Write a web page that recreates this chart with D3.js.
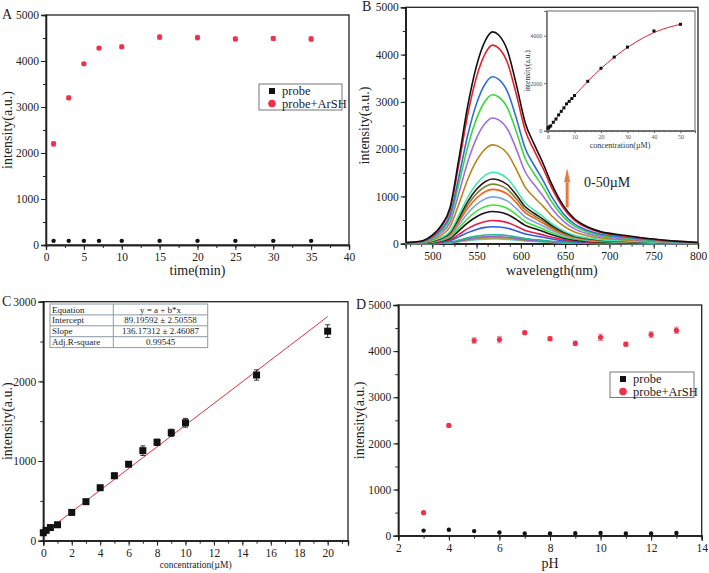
<!DOCTYPE html>
<html><head><meta charset="utf-8">
<script src="https://cdn.jsdelivr.net/npm/d3@7"></script>
<style>body{margin:0;background:#fff}svg{display:block}</style>
</head><body>
<script>
// ---------- Data ----------
const timeMin = [1,3,5,7,10,15,20,25,30,35];
const timeProbe = [90,90,90,90,90,90,90,90,90,90];
const timeArSH = [2200,3200,3940,4280,4310,4520,4510,4480,4490,4480];
const timeArSHErr = [50,40,30,30,40,50,50,40,40,50];

const specWavelengths = [470,480,490,500,510,520,530,540,550,560,568,575,585,595,605,615,625,635,648,660,675,690,712,730,750,775,800];
const specProfile = [0.005,0.008,0.015,0.04,0.085,0.17,0.40,0.65,0.84,0.96,1.0,0.985,0.91,0.75,0.57,0.47,0.38,0.28,0.18,0.12,0.08,0.057,0.042,0.032,0.022,0.012,0.006];
const specPeaks = [4480,4200,3530,3150,2660,2090,1510,1370,1260,1150,990,820,680,490,360,190,150,120,100];
const specColors = ["#111111","#e8202a","#2f6fd8","#3ad83a","#a06ee0","#b8861a","#3fe8b0","#3a1414","#78883a","#ff5a14","#78a8e0","#3ee03e","#151515","#e0204a","#2c5ce8","#22b890","#a258c8","#a8a040","#58d0d0"];

const insetConc = [0,0.2,0.5,1,2,3,4,5,6,7,8,9,10,15,20,25,30,40,50];
const insetInt = [100,130,165,200,355,490,665,815,960,1130,1235,1355,1480,2080,2630,3100,3520,4200,4480];

const calConc = [0,0.2,0.5,1,2,3,4,5,6,7,8,9,10,15,20];
const calInt = [100,130,165,200,355,490,665,815,960,1130,1235,1355,1480,2080,2630];
const calErr = [15,15,15,15,15,15,20,35,30,60,40,45,55,65,80];
const fitIntercept = 89.19592, fitSlope = 136.17312;
const tableRows = [["Equation","y = a + b*x"],["Intercept","89.19592 \u00b1 2.50558"],["Slope","136.17312 \u00b1 2.46087"],["Adj.R-square","0.99545"]];

const pH = [3,4,5,6,7,8,9,10,11,12,13];
const pHProbe = [110,130,100,70,50,50,55,60,50,50,60];
const pHArSH = [500,2390,4230,4250,4400,4270,4170,4300,4150,4360,4450];
const pHArSHErr = [20,30,60,70,30,40,50,70,40,60,70];

const legendLabels = ["probe","probe+ArSH"];

// ---------- Drawing ----------
const W=709,H=573;
const svg=d3.select("body").append("svg").attr("width",W).attr("height",H);
const SERIF="'Liberation Serif','DejaVu Serif',serif";

function frame(p){
  const g=svg.append("g");
  const x=d3.scaleLinear().domain(p.xd).range([p.l,p.r]);
  const y=d3.scaleLinear().domain(p.yd).range([p.b,p.t]);
  const xb=d3.axisBottom(x).tickValues(p.xminor).tickSize(3).tickFormat("");
  const yl=d3.axisLeft(y).tickValues(p.yminor).tickSize(3).tickFormat("");
  g.append("g").attr("transform",`translate(0,${p.b})`).call(xb);
  g.append("g").attr("transform",`translate(${p.l},0)`).call(yl);
  const xa=g.append("g").attr("transform",`translate(0,${p.b})`).call(d3.axisBottom(x).tickValues(p.xmajor).tickSize(5).tickPadding(3).tickFormat(d3.format("d")));
  const ya=g.append("g").attr("transform",`translate(${p.l},0)`).call(d3.axisLeft(y).tickValues(p.ymajor).tickSize(5).tickPadding(2).tickFormat(d3.format("d")));
  [xa,ya].forEach(a=>{a.selectAll("text").attr("font-family",SERIF).attr("font-size",11.5).attr("fill","#222");});
  g.selectAll(".domain").attr("stroke","#222").attr("stroke-width",1.3);
  g.selectAll(".tick line").attr("stroke","#222");
  g.append("rect").attr("x",p.l).attr("y",p.t).attr("width",p.r-p.l).attr("height",p.b-p.t).attr("fill","none").attr("stroke","#222").attr("stroke-width",1.3);
  svg.append("text").attr("x",p.letterX).attr("y",p.t+4).attr("font-family",SERIF).attr("font-size",14).attr("fill","#222").text(p.letter);
  svg.append("text").attr("transform",`translate(${p.ylabX},${(p.t+p.b)/2}) rotate(-90)`).attr("text-anchor","middle").attr("font-family",SERIF).attr("font-size",14).attr("fill","#222").text("intensity(a.u.)");
  svg.append("text").attr("x",(p.l+p.r)/2).attr("y",p.xlabY).attr("text-anchor","middle").attr("font-family",SERIF).attr("font-size",p.xlfs||14).attr("fill","#222").text(p.xlabel);
  return {x,y,g};
}
function range(a,b,s){const r=[];for(let v=a;v<=b+1e-9;v+=s)r.push(+v.toFixed(4));return r;}

function legend(x0,y0,w,h){
  const g=svg.append("g");
  g.append("rect").attr("x",x0).attr("y",y0).attr("width",w).attr("height",h).attr("fill","#fff").attr("stroke","#777").attr("stroke-width",1);
  g.append("rect").attr("x",x0+10).attr("y",y0+4).attr("width",6).attr("height",6).attr("fill","#111");
  g.append("circle").attr("cx",x0+13).attr("cy",y0+19.5).attr("r",3.8).attr("fill","#f0304a");
  legendLabels.forEach((t,i)=>g.append("text").attr("x",x0+23).attr("y",y0+11+i*12.5).attr("font-family",SERIF).attr("font-size",12.5).attr("fill","#222").text(t));
}
function errbars(sc,xs,ys,es,color,cap){
  const g=svg.append("g").attr("stroke",color).attr("stroke-width",1);
  xs.forEach((xv,i)=>{
    const px=sc.x(xv),y1=sc.y(ys[i]-es[i]),y2=sc.y(ys[i]+es[i]);
    g.append("line").attr("x1",px).attr("x2",px).attr("y1",y1).attr("y2",y2);
    g.append("line").attr("x1",px-cap).attr("x2",px+cap).attr("y1",y1).attr("y2",y1);
    g.append("line").attr("x1",px-cap).attr("x2",px+cap).attr("y1",y2).attr("y2",y2);
  });
}

// ---- Panel A ----
const A=frame({l:46,r:349,t:15,b:245,xd:[0,40],yd:[0,5000],xmajor:range(0,40,5),xminor:range(0,40,2.5),ymajor:range(0,5000,1000),yminor:range(0,5000,500),letter:"A",letterX:2,ylabX:12,xlabY:275,xlabel:"time(min)"});
errbars(A,timeMin,timeArSH,timeArSHErr,"#e88a98",2.5);
svg.append("g").selectAll("circle").data(timeMin).join("circle").attr("cx",d=>A.x(d)).attr("cy",(d,i)=>A.y(timeArSH[i])).attr("r",2.6).attr("fill","#f0304a");
svg.append("g").selectAll("circle").data(timeMin).join("circle").attr("cx",d=>A.x(d)).attr("cy",(d,i)=>A.y(timeProbe[i])).attr("r",2.2).attr("fill","#111");
legend(259,84,83,26);

// ---- Panel B ----
const B=frame({l:405.7,r:698,t:7.3,b:243.7,xd:[470,800],yd:[0,5000],xmajor:range(500,800,50),xminor:range(475,800,12.5),ymajor:range(0,5000,1000),yminor:range(0,5000,500),letter:"B",letterX:362,ylabX:369,xlabY:275,xlabel:"wavelength(nm)"});
const specLine=d3.line().x(d=>B.x(d[0])).y(d=>B.y(d[1])).curve(d3.curveMonotoneX);
const specG=svg.append("g").attr("fill","none").attr("stroke-width",1.6);
specPeaks.slice().reverse().forEach((pk,ri)=>{
  const i=specPeaks.length-1-ri;
  const pts=specWavelengths.map((w,j)=>[w,specProfile[j]*pk]);
  specG.append("path").attr("d",specLine(pts)).attr("stroke",specColors[i]);
});
// arrow
const ag=svg.append("g");
ag.append("rect").attr("x",B.x(650)+0.5).attr("y",B.y(1300)).attr("width",3).attr("height",B.y(770)-B.y(1300)).attr("fill","#e87a40");
ag.append("path").attr("d",`M${B.x(650)-1},${B.y(1300)} L${B.x(650)+2},${B.y(1600)} L${B.x(650)+5},${B.y(1300)} Z`).attr("fill","#e87a40");
svg.append("text").attr("x",584).attr("y",187).attr("font-family",SERIF).attr("font-size",14).attr("fill","#222").text("0-50\u00b5M");
// inset
const ix=d3.scaleLinear().domain([-0.5,55.5]).range([546.7,695]);
const iy=d3.scaleLinear().domain([0,5040]).range([130.7,11]);
const ig=svg.append("g");
ig.append("rect").attr("x",546.7).attr("y",11).attr("width",695-546.7).attr("height",130.7-11).attr("fill","#fff").attr("stroke","#666").attr("stroke-width",1);
ig.append("g").attr("transform","translate(0,130.7)").call(d3.axisBottom(ix).tickValues(range(0,50,10)).tickSize(2.5).tickPadding(2).tickFormat(d3.format("d")));
ig.append("g").attr("transform","translate(0,130.7)").call(d3.axisBottom(ix).tickValues(range(0,55,2)).tickSize(1.5).tickFormat(""));
ig.append("g").attr("transform","translate(546.7,0)").call(d3.axisLeft(iy).tickValues([0,2000,4000]).tickSize(2.5).tickPadding(2).tickFormat(d3.format("d")));
ig.selectAll(".domain").attr("stroke","#666");
ig.selectAll(".tick line").attr("stroke","#666");
ig.selectAll(".tick text").attr("font-family",SERIF).attr("font-size",6).attr("fill","#555");
ig.append("text").attr("transform","translate(530,71) rotate(-90)").attr("text-anchor","middle").attr("font-family",SERIF).attr("font-size",7.5).attr("fill","#333").text("intensity(a.u.)");
ig.append("text").attr("x",620).attr("y",148).attr("text-anchor","middle").attr("font-family",SERIF).attr("font-size",8).attr("fill","#333").text("concentration(\u00b5M)");
ig.append("path").attr("d",d3.line().x(d=>ix(d[0])).y(d=>iy(d[1])).curve(d3.curveBasis)(insetConc.map((c,i)=>[c,insetInt[i]]))).attr("fill","none").attr("stroke","#e02030").attr("stroke-width",1);
ig.selectAll("rect.pt").data(insetConc).join("rect").attr("class","pt").attr("x",d=>ix(d)-1.5).attr("y",(d,i)=>iy(insetInt[i])-1.5).attr("width",3).attr("height",3).attr("fill","#111");

// ---- Panel C ----
const C=frame({l:43.3,r:348,t:301.7,b:540.7,xd:[0,21.43],yd:[0,3000],xmajor:range(0,20,2),xminor:range(0,21,1),ymajor:range(0,3000,1000),yminor:range(0,3000,500),letter:"C",letterX:2,ylabX:12,xlabY:568,xlabel:"concentration(\u00b5M)",xlfs:9.5});
svg.append("line").attr("x1",C.x(0)).attr("y1",C.y(fitIntercept)).attr("x2",C.x(20)).attr("y2",C.y(fitIntercept+fitSlope*20)).attr("stroke","#e03040").attr("stroke-width",1);
errbars(C,calConc,calInt,calErr,"#333",2.5);
svg.append("g").selectAll("rect").data(calConc).join("rect").attr("x",d=>C.x(d)-3.5).attr("y",(d,i)=>C.y(calInt[i])-3.5).attr("width",7).attr("height",7).attr("fill","#111");
const tg=svg.append("g");
const tx0=50,tx1=113.3,tx2=207.7,ty0=304,rh=10.9;
tg.append("rect").attr("x",tx0).attr("y",ty0).attr("width",tx2-tx0).attr("height",rh*4).attr("fill","#fff").attr("stroke","#8a9aa4").attr("stroke-width",1);
tg.append("line").attr("x1",tx1).attr("x2",tx1).attr("y1",ty0).attr("y2",ty0+rh*4).attr("stroke","#8a9aa4");
for(let i=1;i<4;i++) tg.append("line").attr("x1",tx0).attr("x2",tx2).attr("y1",ty0+rh*i).attr("y2",ty0+rh*i).attr("stroke","#8a9aa4");
tableRows.forEach((r,i)=>{
  tg.append("text").attr("x",tx0+2).attr("y",ty0+rh*i+8.5).attr("font-family",SERIF).attr("font-size",9).attr("fill","#222").text(r[0]);
  tg.append("text").attr("x",(tx1+tx2)/2).attr("y",ty0+rh*i+8.5).attr("text-anchor","middle").attr("font-family",SERIF).attr("font-size",9).attr("fill","#222").text(r[1]);
});

// ---- Panel D ----
const D=frame({l:398.3,r:701.7,t:305,b:535.7,xd:[2,14],yd:[0,5000],xmajor:range(2,14,2),xminor:range(2,14,1),ymajor:range(0,5000,1000),yminor:range(0,5000,500),letter:"D",letterX:356,ylabX:364,xlabY:568,xlabel:"pH"});
errbars(D,pH,pHArSH,pHArSHErr,"#e88a98",2.5);
svg.append("g").selectAll("circle").data(pH).join("circle").attr("cx",d=>D.x(d)).attr("cy",(d,i)=>D.y(pHArSH[i])).attr("r",2.6).attr("fill","#f0304a");
svg.append("g").selectAll("circle").data(pH).join("circle").attr("cx",d=>D.x(d)).attr("cy",(d,i)=>D.y(pHProbe[i])).attr("r",2.2).attr("fill","#111");
legend(610,372,84,25.5);
</script>
</body></html>
